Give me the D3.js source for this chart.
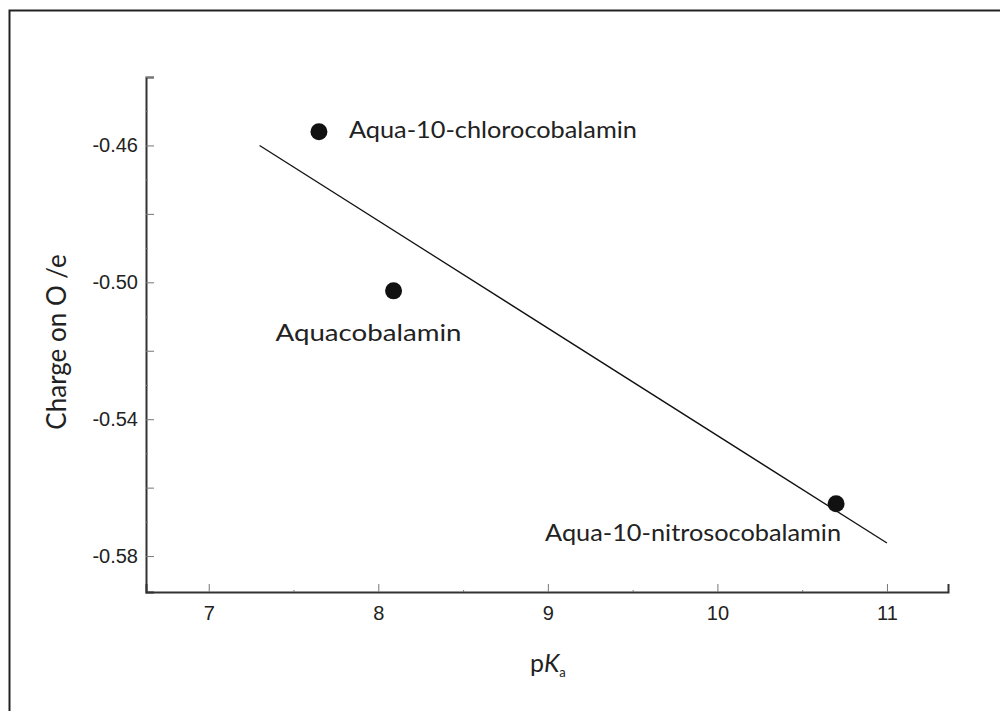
<!DOCTYPE html>
<html>
<head>
<meta charset="utf-8">
<script src="https://cdn.jsdelivr.net/npm/d3@7"></script>
<style>
  body { margin: 0; background: #fff; }
  svg { display: block; font-family: Lato, "DejaVu Sans", sans-serif; }
</style>
</head>
<body>
<div id="chart"></div>
<script>
// Data
const compounds = ["Aqua-10-chlorocobalamin", "Aquacobalamin", "Aqua-10-nitrosocobalamin"];
const pKa = [7.65, 8.09, 10.70];
const chargeO = [-0.456, -0.5025, -0.5647];

// fitted line end points
const fitX = [7.3, 11.0];
const fitY = [-0.460, -0.5762];

const xTicks = [7, 8, 9, 10, 11];
const xMinorTicks = [7.5, 8.5, 9.5, 10.5];
const yTicks = [-0.44, -0.46, -0.48, -0.50, -0.52, -0.54, -0.56, -0.58];
const yTickLabels = ["", "-0.46", "", "-0.50", "", "-0.54", "", "-0.58"];
const yMinorTicks = [-0.45, -0.47, -0.49, -0.51, -0.53, -0.55, -0.57, -0.59];

const W = 1000, H = 711;
const plot = { left: 146, right: 948, top: 77, bottom: 592 };

const svg = d3.select("#chart").append("svg")
    .attr("width", W)
    .attr("height", H);

// outer frame
svg.append("rect")
    .attr("x", 9.5).attr("y", 10.5)
    .attr("width", 1010).attr("height", 720)
    .attr("fill", "none")
    .attr("stroke", "#222")
    .attr("stroke-width", 2);

const x = d3.scaleLinear().domain([6.63, 11.36]).range([plot.left, plot.right]);
const y = d3.scaleLinear().domain([-0.5905, -0.44]).range([plot.bottom, plot.top]);

// y axis
svg.append("g")
    .attr("transform", `translate(${plot.left},0)`)
    .call(d3.axisLeft(y).tickValues(yTicks).tickSize(-8).tickPadding(8)
        .tickFormat((d, i) => yTickLabels[i]));
svg.append("g")
    .attr("transform", `translate(${plot.left},0)`)
    .call(d3.axisLeft(y).tickValues(yMinorTicks).tickSize(-2).tickFormat(""))
    .call(g => g.select(".domain").remove());

// x axis
svg.append("g")
    .attr("transform", `translate(0,${plot.bottom})`)
    .call(d3.axisBottom(x).tickValues(xTicks).tickSize(-8).tickPadding(14)
        .tickFormat(d3.format("d")));
svg.append("g")
    .attr("transform", `translate(0,${plot.bottom})`)
    .call(d3.axisBottom(x).tickValues(xMinorTicks).tickSize(-2).tickFormat(""))
    .call(g => g.select(".domain").remove());

svg.selectAll(".domain")
    .attr("stroke", "#333")
    .attr("stroke-width", 2);
svg.selectAll(".tick line")
    .attr("stroke", "#777");
svg.selectAll(".tick text")
    .attr("fill", "#222")
    .attr("font-size", 20)
    .attr("font-family", "Liberation Sans, Arial, sans-serif");

// regression line
svg.append("line")
    .attr("x1", x(fitX[0])).attr("y1", y(fitY[0]))
    .attr("x2", x(fitX[1])).attr("y2", y(fitY[1]))
    .attr("stroke", "#111")
    .attr("stroke-width", 1.3);

// points
svg.selectAll("circle.pt")
    .data(pKa)
    .join("circle")
    .attr("class", "pt")
    .attr("cx", d => x(d))
    .attr("cy", (d, i) => y(chargeO[i]))
    .attr("r", 8.5)
    .attr("fill", "#111");

// point labels (offsets relative to the point)
const labelPos = [
    { dx: 30, dy: 6, anchor: "start", len: 288 },
    { dx: -25, dy: 50, anchor: "middle", len: 186 },
    { dx: -143, dy: 37, anchor: "middle", len: 296 }
];
svg.selectAll("text.lbl")
    .data(compounds)
    .join("text")
    .attr("class", "lbl")
    .attr("x", (d, i) => x(pKa[i]) + labelPos[i].dx)
    .attr("y", (d, i) => y(chargeO[i]) + labelPos[i].dy)
    .attr("text-anchor", (d, i) => labelPos[i].anchor)
    .attr("textLength", (d, i) => labelPos[i].len)
    .attr("lengthAdjust", "spacingAndGlyphs")
    .attr("font-size", 23)
    .attr("fill", "#222")
    .text(d => d);

// axis titles
const xTitle = svg.append("text")
    .attr("x", x(9))
    .attr("y", 672)
    .attr("text-anchor", "middle")
    .attr("font-size", 25)
    .attr("fill", "#222");
xTitle.append("tspan").text("p");
xTitle.append("tspan").attr("font-style", "italic").text("K");
xTitle.append("tspan").attr("font-size", 13).attr("dy", 5).text("a");

svg.append("text")
    .attr("transform", "translate(66,342) rotate(-90)")
    .attr("text-anchor", "middle")
    .attr("font-size", 26)
    .attr("fill", "#222")
    .text("Charge on O /e");
</script>
</body>
</html>
